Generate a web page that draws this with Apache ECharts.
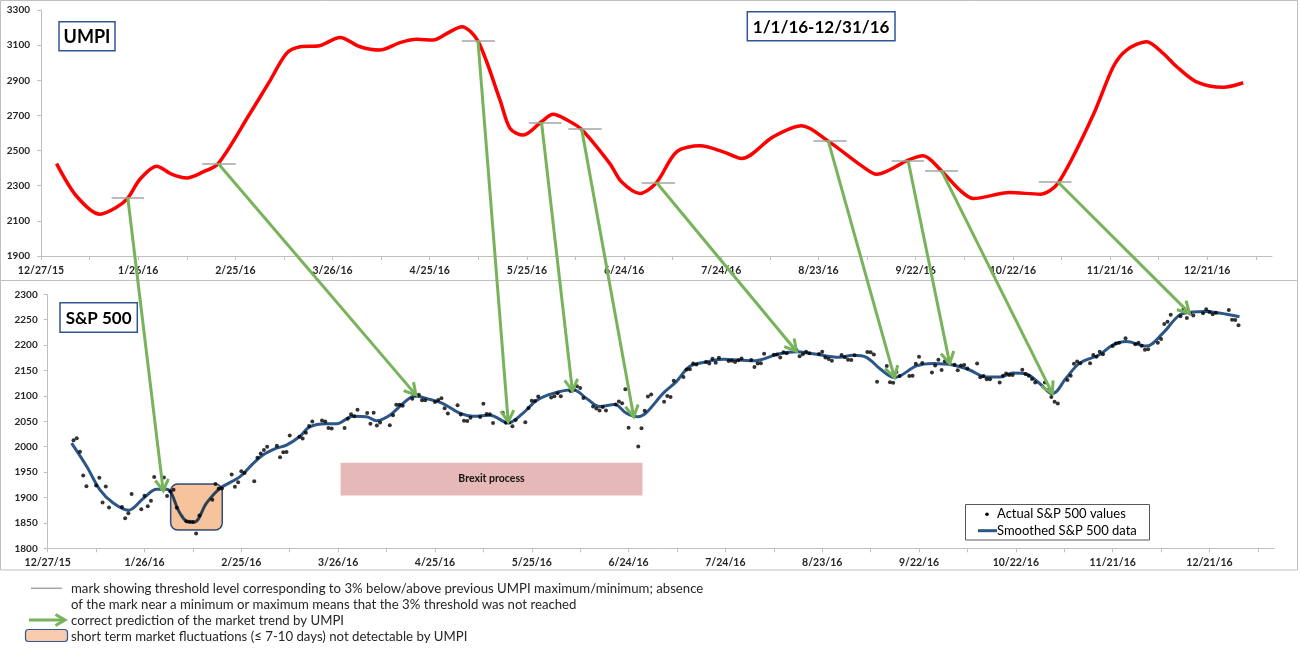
<!DOCTYPE html>
<html>
<head>
<meta charset="utf-8">
<script src="https://cdn.jsdelivr.net/npm/echarts@6/dist/echarts.min.js"></script>
<style>
  html, body { margin: 0; padding: 0; background: #fff; }
  #chart { width: 1300px; height: 651px; }
</style>
</head>
<body>
<div id="chart"></div>
<script>
// ---------- DATA ----------
// x values are days counted from 12/27/15
const xTickLabels = ['12/27/15','1/26/16','2/25/16','3/26/16','4/25/16','5/25/16','6/24/16','7/24/16','8/23/16','9/22/16','10/22/16','11/21/16','12/21/16'];

// UMPI curve
const umpiDays   = [4.8, 11, 18.2, 23.2, 26.8, 30.6, 35.7, 40.3, 45, 50.1, 54.7, 64.5, 70.2, 75.8, 80, 86, 92.3, 98.5, 104.6, 110.8, 116, 121, 126.2, 129.9, 134.9, 141.7, 144.8, 148.9, 154.5, 158.1, 162.3, 166.9, 175.6, 179.2, 184.9, 190, 196.2, 203.4, 210.6, 216.3, 226, 234.8, 243, 253.8, 258, 267.7, 272.3, 278, 283.7, 287.8, 299, 308.4, 314, 324.8, 331, 335.1, 341.3, 346.4, 350.6, 356.7, 365, 371.1];
const umpiValues = [2426, 2240, 2138, 2176, 2230, 2338, 2411, 2366, 2344, 2379, 2426, 2711, 2882, 3053, 3091, 3097, 3144, 3091, 3072, 3114, 3133, 3129, 3176, 3205, 3123, 2787, 2626, 2588, 2664, 2706, 2675, 2620, 2426, 2322, 2256, 2318, 2493, 2527, 2493, 2455, 2578, 2641, 2554, 2407, 2365, 2445, 2470, 2384, 2274, 2227, 2261, 2252, 2316, 2702, 2977, 3072, 3120, 3053, 2977, 2891, 2860, 2886];

// threshold marks: [startDay, endDay, level]
const thrStart = [21.8, 49.8, 129.9, 150.6, 162.8, 185.4, 238.4, 262.6, 272.9, 308.0];
const thrEnd   = [31.8, 60.1, 140.1, 160.7, 173.1, 195.7, 248.7, 272.6, 283.1, 318.1];
const thrLevel = [2231, 2424, 3123, 2660, 2624, 2318, 2557, 2441, 2384, 2320];

// arrows: from (day, UMPI) to (day, S&P 500)
const arrowFromDay = [26.8, 54.7, 134.9, 154.5, 166.9, 190.0, 243.0, 267.7, 278.0, 314.0];
const arrowFromVal = [2230, 2426, 3123, 2662, 2622, 2318, 2557, 2441, 2384, 2320];
const arrowToDay   = [35.8, 114.1, 142.7, 162.6, 181.6, 232.0, 262.4, 279.5, 311.3, 353.8];
const arrowToVal   = [1913, 2102, 2049, 2110, 2059, 2188, 2136, 2164, 2105, 2263];

// S&P 500 actual daily values 2016: [day of month, close]
const spJan = [[4,2012.66],[5,2016.71],[6,1990.26],[7,1943.09],[8,1922.03],[11,1923.67],[12,1938.68],[13,1890.28],[14,1921.84],[15,1880.33],[19,1881.33],[20,1859.33],[21,1868.99],[22,1906.90],[25,1877.08],[26,1903.63],[27,1882.95],[28,1893.36],[29,1940.24]];
const spFeb = [[1,1939.38],[2,1903.03],[3,1912.53],[4,1915.45],[5,1880.05],[8,1853.44],[9,1852.21],[10,1851.86],[11,1829.08],[12,1864.78],[16,1895.58],[17,1926.82],[18,1917.83],[19,1917.78],[22,1945.50],[23,1921.27],[24,1929.80],[25,1951.70],[26,1948.05],[29,1932.23]];
const spMar = [[1,1978.35],[2,1986.45],[3,1993.40],[4,1999.99],[7,2001.76],[8,1979.26],[9,1989.26],[10,1989.57],[11,2022.19],[14,2019.64],[15,2015.93],[16,2027.22],[17,2040.59],[18,2049.58],[21,2051.60],[22,2049.80],[23,2036.71],[24,2035.94],[28,2037.05],[29,2055.01],[30,2063.95],[31,2059.74]];
const spApr = [[1,2072.78],[4,2066.13],[5,2045.17],[6,2066.66],[7,2041.91],[8,2047.60],[11,2041.99],[12,2061.72],[13,2082.42],[14,2082.78],[15,2080.73],[18,2094.34],[19,2100.80],[20,2102.40],[21,2091.48],[22,2091.58],[25,2087.79],[26,2091.70],[27,2095.15],[28,2075.81],[29,2065.30]];
const spMay = [[2,2081.43],[3,2063.37],[4,2051.12],[5,2050.63],[6,2057.14],[9,2058.69],[10,2084.39],[11,2064.46],[12,2064.11],[13,2046.61],[16,2066.66],[17,2047.21],[18,2047.63],[19,2040.04],[20,2052.32],[23,2048.04],[24,2076.06],[25,2090.54],[26,2090.10],[27,2099.06],[31,2096.95]];
const spJun = [[1,2099.33],[2,2105.26],[3,2099.13],[6,2109.41],[7,2112.13],[8,2119.12],[9,2115.48],[10,2096.07],[13,2079.06],[14,2075.32],[15,2071.50],[16,2077.99],[17,2071.22],[20,2083.25],[21,2088.90],[22,2085.45],[23,2113.32],[24,2037.41],[27,2000.54],[28,2036.09],[29,2070.77],[30,2098.86]];
const spJul = [[1,2102.95],[5,2088.55],[6,2099.73],[7,2097.90],[8,2129.90],[11,2137.16],[12,2152.14],[13,2152.43],[14,2163.75],[15,2161.74],[18,2166.89],[19,2163.78],[20,2173.02],[21,2165.17],[22,2175.03],[25,2168.48],[26,2169.18],[27,2166.58],[28,2170.06],[29,2173.60]];
const spAug = [[1,2170.84],[2,2157.03],[3,2163.79],[4,2164.25],[5,2182.87],[8,2180.89],[9,2181.74],[10,2175.49],[11,2185.79],[12,2184.05],[15,2190.15],[16,2178.15],[17,2182.22],[18,2187.02],[19,2183.87],[22,2182.64],[23,2186.90],[24,2175.44],[25,2172.47],[26,2169.04],[29,2180.38],[30,2176.12],[31,2170.95]];
const spSep = [[1,2170.86],[2,2179.98],[6,2186.48],[7,2186.16],[8,2181.30],[9,2127.81],[12,2159.04],[13,2127.02],[14,2125.77],[15,2147.26],[16,2139.16],[19,2139.12],[20,2139.76],[21,2163.12],[22,2177.18],[23,2164.69],[26,2146.10],[27,2159.93],[28,2171.37],[29,2151.13],[30,2168.27]];
const spOct = [[3,2161.20],[4,2150.49],[5,2159.73],[6,2160.77],[7,2153.74],[10,2163.66],[11,2136.73],[12,2139.18],[13,2132.55],[14,2132.98],[17,2126.50],[18,2139.60],[19,2144.29],[20,2141.34],[21,2141.16],[24,2151.33],[25,2143.16],[26,2139.43],[27,2133.04],[28,2126.41],[31,2126.15]];
const spNov = [[1,2111.72],[2,2097.94],[3,2088.66],[4,2085.18],[7,2131.52],[8,2139.56],[9,2163.26],[10,2167.48],[11,2164.45],[14,2164.20],[15,2180.39],[16,2176.94],[17,2187.12],[18,2181.90],[21,2198.18],[22,2202.94],[23,2204.72],[25,2213.35],[28,2201.72],[29,2204.66],[30,2198.81]];
const spDec = [[1,2191.08],[2,2191.95],[5,2204.71],[6,2212.23],[7,2241.35],[8,2246.19],[9,2259.53],[12,2256.96],[13,2271.72],[14,2253.28],[15,2262.03],[16,2258.07],[19,2262.53],[20,2270.76],[21,2265.18],[22,2260.96],[23,2263.79],[27,2268.88],[28,2249.92],[29,2249.26],[30,2238.83]];

// Smoothed S&P 500 curve
const smoothDays   = [7.4, 12.1, 16.2, 20.3, 25, 29.6, 33.8, 36.9, 41, 43.5, 45.5, 49.2, 53.4, 59.6, 63.7, 66.8, 70.9, 74, 78.1, 81.2, 86.4, 89.5, 94.6, 98.8, 101.9, 106, 110.1, 113.8, 118.4, 122.5, 127.7, 131.8, 137, 142.7, 147.3, 151.5, 156.6, 162.8, 167, 171.1, 175.7, 179.3, 182.9, 185.5, 190.7, 194.8, 198.9, 204.1, 209.3, 218.5, 226.8, 232, 237.1, 245.4, 249.5, 253.7, 257.8, 262.4, 269.2, 274.3, 280.5, 285.7, 290.8, 295, 299.1, 303.2, 307.3, 311.3, 315.6, 319.7, 325.9, 330, 334.2, 340.4, 345.5, 350.7, 354.8, 359, 363.1, 369.3];
const smoothValues = [2007, 1961, 1915, 1889, 1875, 1898, 1916, 1916, 1869, 1852, 1852, 1889, 1918, 1941, 1967, 1984, 1997, 2003, 2020, 2039, 2045, 2045, 2060, 2059, 2051, 2062, 2085, 2100, 2093, 2085, 2066, 2060, 2062, 2047, 2066, 2091, 2105, 2112, 2095, 2079, 2083, 2066, 2059, 2067, 2105, 2128, 2158, 2167, 2172, 2169, 2183, 2187, 2183, 2176, 2180, 2176, 2154, 2136, 2159, 2164, 2161, 2151, 2137, 2137, 2145, 2143, 2125, 2104, 2135, 2164, 2181, 2200, 2207, 2198, 2223, 2259, 2265, 2266, 2263, 2256];

// annotation areas
const brexitDays  = [90.75, 184.3];
const brexitRange = [1904, 1968.5];
const fluctDays   = [38.1, 54.1];
const fluctRange  = [1836, 1926.6];

// ---------- BUILD ----------
const base = Date.UTC(2015, 11, 27);
const dayOf = (m, d) => (Date.UTC(2016, m - 1, d) - base) / 864e5;
const spMonths = [spJan, spFeb, spMar, spApr, spMay, spJun, spJul, spAug, spSep, spOct, spNov, spDec];
const spData = [];
spMonths.forEach((arr, mi) => arr.forEach(p => spData.push([dayOf(mi + 1, p[0]), p[1]])));

const FONT = 'Lato';
const AXIS_COLOR = '#BFBFBF';
const LABEL_COLOR = '#262626';
const GREEN = '#77B35A';
const BLUE_LINE = '#2B5687';
const BOX_BLUE = '#2F5597';

function xAxisCfg(gi) {
  return {
    gridIndex: gi, type: 'value', min: 0, max: 380, interval: 15,
    axisLine: { show: true, lineStyle: { color: AXIS_COLOR, width: 1 } },
    axisTick: { show: true, length: 4, lineStyle: { color: AXIS_COLOR } },
    splitLine: { show: false },
    axisLabel: {
      margin: 9, fontFamily: FONT, fontSize: 10.5, fontWeight: 'bold', color: LABEL_COLOR,
      showMaxLabel: false,
      formatter: v => (v % 30 === 0 && v / 30 < xTickLabels.length) ? xTickLabels[v / 30] : ''
    }
  };
}
function yAxisCfg(gi, min, max, interval, margin) {
  return {
    gridIndex: gi, type: 'value', min, max, interval,
    axisLine: { show: true, lineStyle: { color: AXIS_COLOR, width: 1 } },
    axisTick: { show: true, length: 4, lineStyle: { color: AXIS_COLOR } },
    splitLine: { show: false },
    axisLabel: { margin, fontFamily: FONT, fontSize: 10, fontWeight: 'bold', color: LABEL_COLOR, formatter: v => String(v) }
  };
}

const chart = echarts.init(document.getElementById('chart'), null, { renderer: 'canvas' });
chart.setOption({
  animation: false,
  backgroundColor: '#fff',
  textStyle: { fontFamily: FONT },
  grid: [
    { left: 41, right: 28, top: 10, height: 246 },
    { left: 47.7, right: 26, top: 294.3, height: 254 }
  ],
  xAxis: [xAxisCfg(0), xAxisCfg(1)],
  yAxis: [yAxisCfg(0, 1900, 3300, 200, 11), yAxisCfg(1, 1800, 2300, 50, 10)],
  series: [
    {
      name: 'UMPI', type: 'line', xAxisIndex: 0, yAxisIndex: 0,
      data: umpiDays.map((d, i) => [d, umpiValues[i]]),
      smooth: 0.3, symbol: 'none', z: 3,
      lineStyle: { color: '#FF0000', width: 3.5 },
      markLine: {
        silent: true, symbol: 'none', label: { show: false },
        lineStyle: { color: '#A5A5A5', width: 1.5, type: 'solid' },
        data: thrStart.map((s, i) => [{ coord: [s, thrLevel[i]] }, { coord: [thrEnd[i], thrLevel[i]] }])
      }
    },
    {
      name: 'Smoothed S&P 500 data', type: 'line', xAxisIndex: 1, yAxisIndex: 1,
      data: smoothDays.map((d, i) => [d, smoothValues[i]]),
      smooth: 0.35, symbol: 'none', z: 3,
      lineStyle: { color: BLUE_LINE, width: 3 },
      markArea: {
        silent: true,
        itemStyle: { color: '#E6B9B8', opacity: 1 },
        label: { show: true, position: 'inside', fontFamily: FONT, fontSize: 10.5, fontWeight: 'bold', color: '#111' },
        data: [[{ name: 'Brexit process', xAxis: brexitDays[0], yAxis: brexitRange[1] }, { xAxis: brexitDays[1], yAxis: brexitRange[0] }]]
      }
    },
    {
      name: 'Actual S&P 500 values', type: 'scatter', xAxisIndex: 1, yAxisIndex: 1,
      data: spData, symbolSize: 4, z: 4,
      itemStyle: { color: '#000' }
    }
  ]
});

// ---------- ANNOTATIONS (positions derived from data via the axes) ----------
function arrowParts(p0, p1, w, L) {
  const dx = p1[0] - p0[0], dy = p1[1] - p0[1];
  const len = Math.hypot(dx, dy);
  const bx = -dx / len, by = -dy / len;
  const a = 30 * Math.PI / 180;
  const r = (ang) => [bx * Math.cos(ang) - by * Math.sin(ang), bx * Math.sin(ang) + by * Math.cos(ang)];
  const r1 = r(a), r2 = r(-a);
  return [
    { type: 'line', z: 50, silent: true, shape: { x1: p0[0], y1: p0[1], x2: p1[0], y2: p1[1] }, style: { stroke: GREEN, lineWidth: w } },
    { type: 'polyline', z: 50, silent: true, shape: { points: [[p1[0] + r1[0] * L, p1[1] + r1[1] * L], [p1[0], p1[1]], [p1[0] + r2[0] * L, p1[1] + r2[1] * L]] }, style: { stroke: GREEN, lineWidth: w, fill: null } }
  ];
}

const g = [];
// panel frames
g.push({ type: 'rect', z: 0, silent: true, shape: { x: 0.5, y: 0.5, width: 1297, height: 280 }, style: { fill: null, stroke: '#BFBFBF', lineWidth: 1 } });
g.push({ type: 'rect', z: 0, silent: true, shape: { x: 0.5, y: 280.5, width: 1297, height: 289.5 }, style: { fill: null, stroke: '#BFBFBF', lineWidth: 1 } });

// title boxes
function labelBox(x, y, w, h, text, size) {
  g.push({ type: 'rect', z: 20, silent: true, shape: { x, y, width: w, height: h }, style: { fill: '#fff', stroke: BOX_BLUE, lineWidth: 1.5 } });
  g.push({ type: 'text', z: 21, silent: true, x: x + w / 2, y: y + h / 2 + 1, style: { text, fill: '#000', font: `bold ${size}px ${FONT}`, align: 'center', verticalAlign: 'middle' } });
}
labelBox(59, 21.7, 56, 29, 'UMPI', 18);
labelBox(747.3, 11.7, 147.7, 29, '1/1/16-12/31/16', 17);
labelBox(60, 302.7, 77.3, 29.6, 'S&P 500', 17);

// short-term fluctuation box
const fa = chart.convertToPixel({ gridIndex: 1 }, [fluctDays[0], fluctRange[1]]);
const fb = chart.convertToPixel({ gridIndex: 1 }, [fluctDays[1], fluctRange[0]]);
g.push({ type: 'rect', z: 30, silent: true, shape: { x: fa[0], y: fa[1], width: fb[0] - fa[0], height: fb[1] - fa[1], r: 7 }, style: { fill: '#F7C39D', stroke: BOX_BLUE, lineWidth: 1.5, blend: 'multiply' } });

// arrows
arrowFromDay.forEach((d, i) => {
  const p0 = chart.convertToPixel({ gridIndex: 0 }, [d, arrowFromVal[i]]);
  const p1 = chart.convertToPixel({ gridIndex: 1 }, [arrowToDay[i], arrowToVal[i]]);
  arrowParts(p0, p1, 3, 13).forEach(e => g.push(e));
});

// chart legend box
const legFont = `13px ${FONT}`;
g.push({ type: 'rect', z: 20, silent: true, shape: { x: 965.5, y: 504.5, width: 184, height: 35.5 }, style: { fill: '#fff', stroke: '#595959', lineWidth: 1 } });
g.push({ type: 'circle', z: 21, silent: true, shape: { cx: 987, cy: 514.3, r: 1.8 }, style: { fill: '#000' } });
g.push({ type: 'text', z: 21, silent: true, x: 997, y: 514.3, style: { text: 'Actual S&P 500 values', fill: '#000', font: legFont, align: 'left', verticalAlign: 'middle' } });
g.push({ type: 'line', z: 21, silent: true, shape: { x1: 978, y1: 530.7, x2: 997, y2: 530.7 }, style: { stroke: BLUE_LINE, lineWidth: 3 } });
g.push({ type: 'text', z: 21, silent: true, x: 997, y: 530.7, style: { text: 'Smoothed S&P 500 data', fill: '#000', font: legFont, align: 'left', verticalAlign: 'middle' } });

// footer legend
const footFont = `13.2px ${FONT}`;
g.push({ type: 'line', z: 21, silent: true, shape: { x1: 31, y1: 588.3, x2: 62, y2: 588.3 }, style: { stroke: '#A5A5A5', lineWidth: 1.5 } });
g.push({ type: 'text', z: 21, silent: true, x: 71, y: 588.3, style: { text: 'mark showing threshold level corresponding to 3% below/above previous UMPI maximum/minimum; absence', fill: '#262626', font: footFont, align: 'left', verticalAlign: 'middle' } });
g.push({ type: 'text', z: 21, silent: true, x: 71, y: 604.5, style: { text: 'of the mark near a minimum or maximum means that the 3% threshold was not reached', fill: '#262626', font: footFont, align: 'left', verticalAlign: 'middle' } });
arrowParts([29, 620], [65, 620], 3, 11).forEach(e => g.push(e));
g.push({ type: 'text', z: 21, silent: true, x: 71, y: 620.5, style: { text: 'correct prediction of the market trend by UMPI', fill: '#262626', font: footFont, align: 'left', verticalAlign: 'middle' } });
g.push({ type: 'rect', z: 21, silent: true, shape: { x: 25.5, y: 629.5, width: 42, height: 12, r: 3 }, style: { fill: '#F8CBAD', stroke: BOX_BLUE, lineWidth: 1.2 } });
g.push({ type: 'text', z: 21, silent: true, x: 71, y: 636.5, style: { text: 'short term market fluctuations (≤ 7-10 days) not detectable by UMPI', fill: '#262626', font: footFont, align: 'left', verticalAlign: 'middle' } });

chart.setOption({ graphic: g });
</script>
</body>
</html>
